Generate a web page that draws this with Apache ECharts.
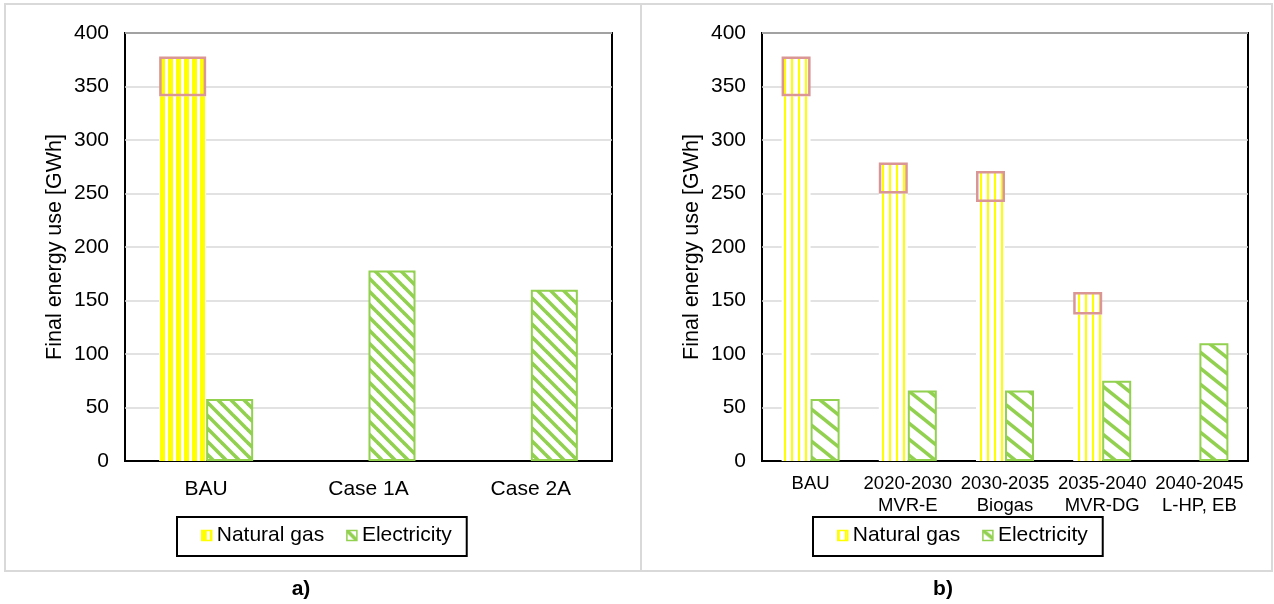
<!DOCTYPE html>
<html>
<head>
<meta charset="utf-8">
<script src="https://cdn.jsdelivr.net/npm/echarts@6/dist/echarts.min.js"></script>
<style>
  html, body { margin: 0; padding: 0; background: #fff; }
  #chart { width: 1274px; height: 604px; }
</style>
</head>
<body>
<div id="chart"></div>
<script>
// Panel a) – final energy use per case [GWh]
const catsA = ['BAU', 'Case 1A', 'Case 2A'];
const gasA = [378, 0, 0];
const gasRangeLowA = [341, null, null];
const elecA = [58, 178, 160];

// Panel b) – final energy use per transition period [GWh]
const catsB = ['BAU', '2020-2030\nMVR-E', '2030-2035\nBiogas', '2035-2040\nMVR-DG', '2040-2045\nL-HP, EB'];
const gasB = [378, 279, 271, 158, 0];
const gasRangeLowB = [341, 250, 242, 137, null];
const elecB = [58, 66, 66, 75, 110];

const yTicks = { min: 0, max: 400, interval: 50 };

const FONT = "'Liberation Sans', Arial, sans-serif";
const YELLOW = '#ffff00';
const GREEN = '#92d050';
const PINK = '#d99694';

// Tiled fills for the bars
function tile(w, h, draw) {
  const c = document.createElement('canvas');
  c.width = w; c.height = h;
  const g = c.getContext('2d');
  g.fillStyle = '#fff';
  g.fillRect(0, 0, w, h);
  draw(g, w, h);
  return { image: c, repeat: 'repeat' };
}
function vStripes(period, thick) {
  return tile(period, 4, (g, w, h) => { g.fillStyle = YELLOW; g.fillRect(0, 0, thick, h); });
}
function dStripes(w, h, thick) {
  return tile(w, h, (g) => {
    g.strokeStyle = GREEN; g.lineWidth = thick;
    for (let k = -1; k <= 1; k++) {
      g.beginPath();
      g.moveTo(-2, k * h - 2 * h / w);
      g.lineTo(w + 2, k * h + h + 2 * h / w);
      g.stroke();
    }
  });
}

const gasFillA = vStripes(8, 5);
const gasFillB = vStripes(7, 2);
const elecFillA = dStripes(13, 13, 3.6);
const elecFillB = dStripes(20, 16, 3.6);

function gasParts(total, low) {
  const lower = total.map((v, i) => low[i] == null ? v : low[i]);
  const upper = total.map((v, i) => low[i] == null ? null : v - low[i]);
  return { lower, upper };
}
const partsA = gasParts(gasA, gasRangeLowA);
const partsB = gasParts(gasB, gasRangeLowB);

function yAxis(idx) {
  return {
    type: 'value', gridIndex: idx,
    min: yTicks.min, max: yTicks.max, interval: yTicks.interval,
    name: 'Final energy use [GWh]', nameLocation: 'middle', nameGap: 59,
    nameTextStyle: { fontFamily: FONT, fontSize: 21.5, color: '#000' },
    axisLine: { show: false }, axisTick: { show: false },
    axisLabel: { fontFamily: FONT, fontSize: 21, color: '#000', margin: 16 },
    splitLine: { lineStyle: { color: '#d9d9d9', width: 1.5 } }
  };
}

function seriesFor(idx, parts, elec, gasFill, elecFill, barW) {
  return [
    { name: 'Natural gas', type: 'bar', xAxisIndex: idx, yAxisIndex: idx, stack: 'gas' + idx,
      data: parts.lower, barWidth: barW, barGap: '0%',
      itemStyle: { color: gasFill }, emphasis: { disabled: true } },
    { name: 'Natural gas', type: 'bar', xAxisIndex: idx, yAxisIndex: idx, stack: 'gas' + idx,
      data: parts.upper, barWidth: barW, barGap: '0%',
      itemStyle: { color: gasFill, borderColor: PINK, borderWidth: 2.5 }, emphasis: { disabled: true } },
    { name: 'Electricity', type: 'bar', xAxisIndex: idx, yAxisIndex: idx, stack: 'el' + idx,
      data: elec, barWidth: barW, barGap: '0%',
      itemStyle: { color: elecFill, borderColor: GREEN, borderWidth: 2 }, emphasis: { disabled: true } }
  ];
}

function legend(left, gasFill, elecFill) {
  return {
    left: left, top: 517, orient: 'horizontal',
    padding: [8, 15, 10, 24],
    borderColor: '#000', borderWidth: 2,
    itemWidth: 10, itemHeight: 10, itemGap: 22,
    icon: 'rect', selectedMode: false,
    textStyle: { fontFamily: FONT, fontSize: 21, color: '#000' },
    data: [
      { name: 'Natural gas', itemStyle: { color: gasFill, borderColor: YELLOW, borderWidth: 1.5 } },
      { name: 'Electricity', itemStyle: { color: elecFill, borderColor: GREEN, borderWidth: 1.5 } }
    ]
  };
}

const chart = echarts.init(document.getElementById('chart'), null, { renderer: 'canvas' });
chart.setOption({
  animation: false,
  backgroundColor: '#fff',
  grid: [
    { left: 125, top: 33, width: 487, height: 428, show: true, borderColor: '#000', borderWidth: 2, backgroundColor: 'transparent' },
    { left: 762, top: 33, width: 486, height: 428, show: true, borderColor: '#000', borderWidth: 2, backgroundColor: 'transparent' }
  ],
  xAxis: [
    { type: 'category', gridIndex: 0, data: catsA,
      axisLine: { lineStyle: { color: '#000', width: 2 } }, axisTick: { show: false },
      axisLabel: { fontFamily: FONT, fontSize: 21, color: '#000', margin: 18 } },
    { type: 'category', gridIndex: 1, data: catsB,
      axisLine: { lineStyle: { color: '#000', width: 2 } }, axisTick: { show: false },
      axisLabel: { fontFamily: FONT, fontSize: 18.5, lineHeight: 22, color: '#000', margin: 12, interval: 0 } }
  ],
  yAxis: [yAxis(0), yAxis(1)],
  legend: [legend(177, gasFillA, elecFillA), legend(813, gasFillB, elecFillB)],
  series: [
    ...seriesFor(0, partsA, elecA, gasFillA, elecFillA, 47),
    ...seriesFor(1, partsB, elecB, gasFillB, elecFillB, 29)
  ],
  graphic: [
    { type: 'rect', silent: true, z: -1, shape: { x: 5, y: 4, width: 636, height: 567 },
      style: { fill: 'none', stroke: '#d9d9d9', lineWidth: 2 } },
    { type: 'rect', silent: true, z: -1, shape: { x: 641, y: 4, width: 631, height: 567 },
      style: { fill: 'none', stroke: '#d9d9d9', lineWidth: 2 } },
    { type: 'text', silent: true, x: 301, y: 589,
      style: { text: 'a)', font: "bold 21px 'Liberation Sans', Arial, sans-serif", fill: '#000', align: 'center', verticalAlign: 'middle' } },
    { type: 'text', silent: true, x: 943, y: 589,
      style: { text: 'b)', font: "bold 21px 'Liberation Sans', Arial, sans-serif", fill: '#000', align: 'center', verticalAlign: 'middle' } }
  ]
});
</script>
</body>
</html>
